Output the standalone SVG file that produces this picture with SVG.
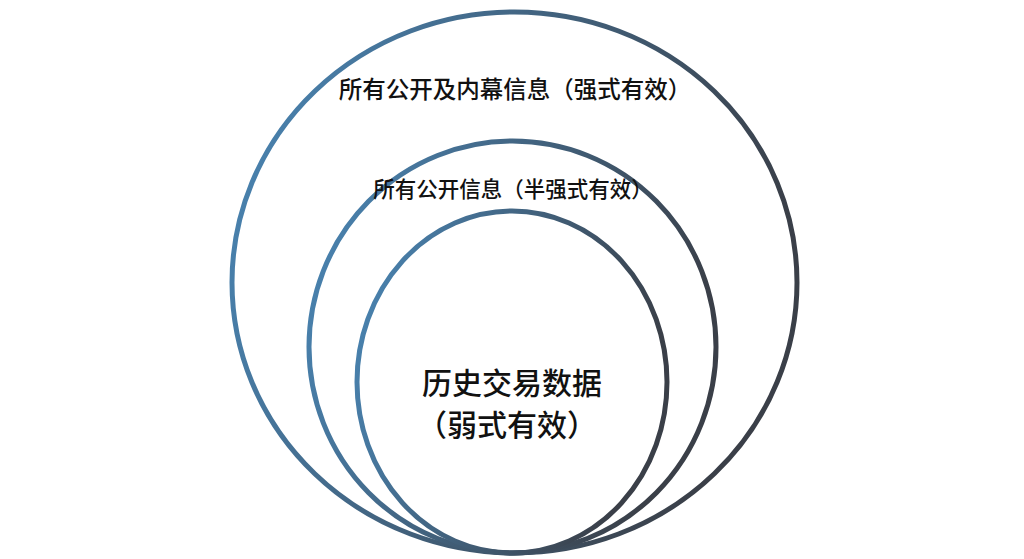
<svg xmlns="http://www.w3.org/2000/svg" width="1024" height="559" viewBox="0 0 1024 559">
<defs>
<linearGradient id="g" x1="0" y1="0" x2="1" y2="0.3">
<stop offset="0" stop-color="#4a88b8"/>
<stop offset="1" stop-color="#3a3f48"/>
</linearGradient>
<style>
.c{fill:none;stroke:url(#g);stroke-width:5}
text{font-family:"Noto Sans CJK SC","Noto Sans",sans-serif;fill:#111;text-anchor:middle;font-weight:500}
</style>
</defs>
<rect width="1024" height="559" fill="#fff"/>
<g id="outer"><ellipse class="c" cx="514.5" cy="282.5" rx="282.5" ry="270.5"/>
<text x="515" y="98" font-size="23.5">所有公开及内幕信息（强式有效）</text></g>
<g id="middle"><ellipse class="c" cx="512.5" cy="347" rx="203.5" ry="206"/>
<text x="513" y="197" font-size="21.5">所有公开信息（半强式有效）</text></g>
<g id="inner"><ellipse class="c" cx="512" cy="382" rx="155" ry="171"/>
<text x="512" y="394" font-size="30">历史交易数据</text>
<text x="507" y="436" font-size="30">（弱式有效）</text></g>
<g id="connectors"/>
</svg>
